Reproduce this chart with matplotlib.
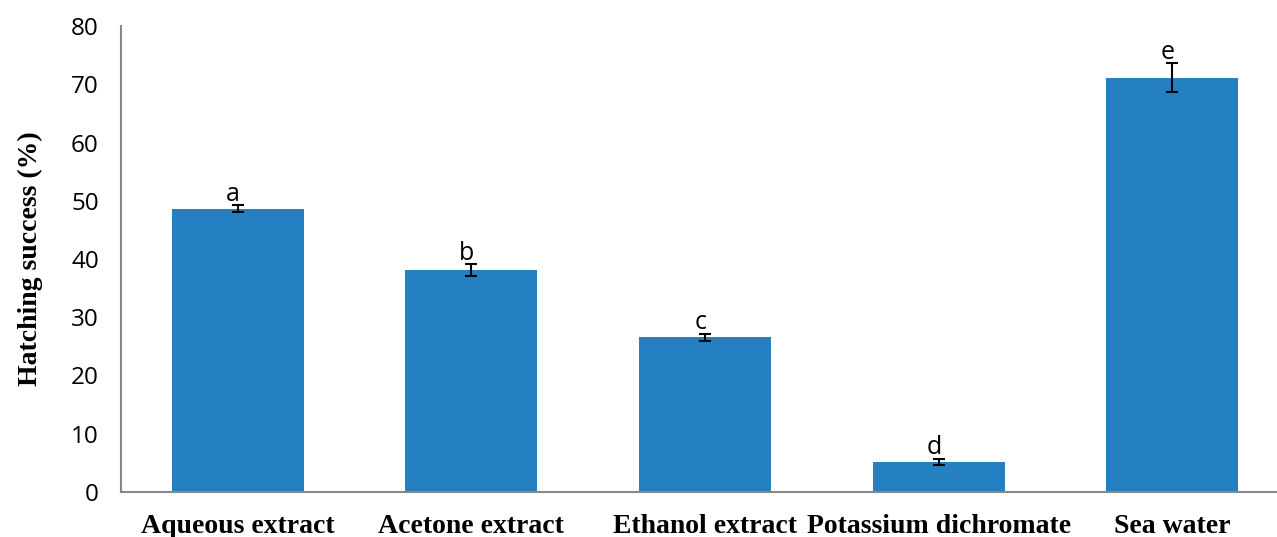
import matplotlib
matplotlib.use("Agg")
import matplotlib.pyplot as plt

categories = ["Aqueous extract", "Acetone extract", "Ethanol extract", "Potassium dichromate", "Sea water"]
values = [48.6, 38.1, 26.6, 5.2, 71.1]
errors = [0.6, 1.0, 0.6, 0.5, 2.5]
letters = ["a", "b", "c", "d", "e"]
yticks = [0, 10, 20, 30, 40, 50, 60, 70, 80]

fig = plt.figure(figsize=(12.77, 5.37), dpi=100)
ax = fig.add_axes([121/1277, 45/537, 1168/1277, 466/537])

x = list(range(len(categories)))
ax.bar(x, values, width=0.565, color="#2480C0", zorder=2)
ax.errorbar(x, values, yerr=errors, fmt="none", ecolor="black", elinewidth=1.5,
            capsize=4.5, capthick=1.5, zorder=3)
for xi, v, e, l in zip(x, values, errors, letters):
    ax.text(xi - 0.02, v + e + 1.9, l, ha="center", va="center", fontsize=18,
            family="Open Sans", zorder=4)

ax.set_xlim(-0.5, 4.5)
ax.set_ylim(0, 80)
ax.set_yticks(yticks)
ax.set_yticklabels([str(t) for t in yticks], family="Open Sans", fontsize=17.5)
ax.set_xticks(x)
ax.set_xticklabels(categories, family="Liberation Serif", fontweight="bold", fontsize=20)
ax.tick_params(axis="both", length=0)
ax.tick_params(axis="y", pad=16)
ax.tick_params(axis="x", pad=16)
ax.set_ylabel("Hatching success (%)", family="Liberation Serif", fontweight="bold",
              fontsize=20, labelpad=20)
for s in ["top", "right"]:
    ax.spines[s].set_visible(False)
for s in ["left", "bottom"]:
    ax.spines[s].set_color("#888888")
    ax.spines[s].set_linewidth(1.5)

fig.savefig("out.png", dpi=100)
